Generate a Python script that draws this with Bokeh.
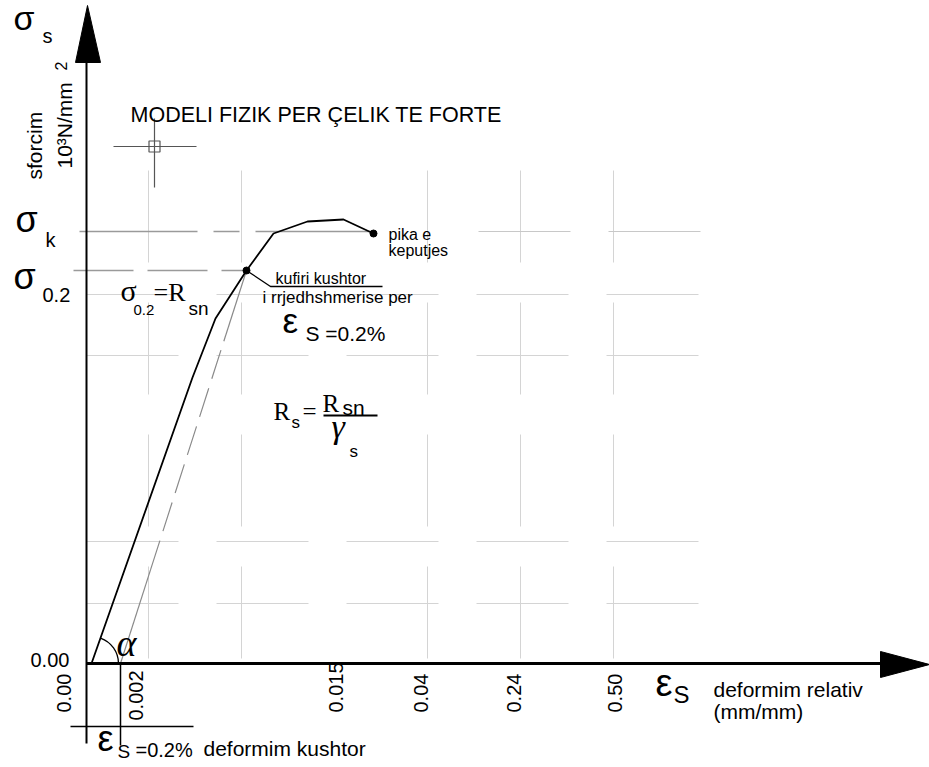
import numpy as np
from bokeh.plotting import figure
from bokeh.models import Range1d
from bokeh.core.properties import value
from bokeh.embed import file_html
from bokeh.resources import INLINE

# ---------------- data (drawing units: origin where the axes cross) -------------
curve_eps = [5, 106, 129, 160, 187, 221, 257, 287]      # stress-strain curve
curve_sig = [0, 286, 345, 393, 430, 442, 444, 430]
offset_eps = [34, 160]                                   # 0.2% offset line
offset_sig = [0, 393]
sigma_k = 432            # breaking stress level
sigma_02 = 393           # conventional yield level
eps_02 = 34              # 0.2 % strain
grid_x = [62, 155, 341, 434, 527]
grid_y = [60, 122, 308, 369]
grid_top = 493
grid_right = 620
xtick_labels = ["0.00", "0.002", "0.015", "0.04", "0.24", "0.50"]
xtick_pos = [-15, 57, 257, 342, 435, 536]
xtick_start = [-49, -57, -49, -49, -49, -49]

OX, OY = 86, 663   # reference pixel of the origin
W, H = 929, 767
BASE_FIX = 0.38    # baseline correction (fraction of font size)


def X(px):
    return px - OX


def Y(py):
    return OY - py


SANS = "Liberation Sans"
SERIF = "Liberation Serif"

p = figure(width=W, height=H, x_range=Range1d(X(0), X(W)),
           y_range=Range1d(Y(H), Y(0)), output_backend="svg",
           toolbar_location=None, x_axis_type=None, y_axis_type=None,
           min_border=0, title=None)
p.outline_line_color = None
p.background_fill_color = "white"
p.border_fill_color = "white"

# grid (broken lines, CAD style)
p.multi_line(xs=[[gx, gx] for gx in grid_x], ys=[[grid_top, 0] for _ in grid_x],
             line_color="#d4d4d4", line_width=1, line_dash="92 40")
p.multi_line(xs=[[0, grid_right] for _ in grid_y], ys=[[gy, gy] for gy in grid_y],
             line_color="#d4d4d4", line_width=1, line_dash="92 38")
# right part of sigma_k line (grid-like)
p.line([392, grid_right], [sigma_k, sigma_k], line_color="#c8c8c8", line_width=1,
       line_dash="92 38")

# dashed reference levels
p.line([X(79), curve_eps[-1]], [sigma_k, sigma_k], line_color="#9a9a9a",
       line_width=1.5, line_dash="118 16 26 16")
p.line([X(73), curve_eps[3]], [sigma_02, sigma_02], line_color="#9a9a9a",
       line_width=1.5, line_dash="60 14")

# offset line: solid - dashed - solid
t = np.array([0.0, 0.24, 0.82, 1.0])
ox = offset_eps[0] + t * (offset_eps[1] - offset_eps[0])
oy = offset_sig[0] + t * (offset_sig[1] - offset_sig[0])
p.line([ox[0], ox[1]], [oy[0], oy[1]], line_color="#8a8a8a", line_width=1.2)
p.line([ox[1], ox[2]], [oy[1], oy[2]], line_color="#8a8a8a", line_width=1.2,
       line_dash="30 10")
p.line([ox[2], ox[3]], [oy[2], oy[3]], line_color="#8a8a8a", line_width=1.2)

# main curve
p.line(curve_eps, curve_sig, line_color="black", line_width=1.8)
p.scatter([curve_eps[3], curve_eps[-1]], [curve_sig[3], curve_sig[-1]], size=7,
          color="black")

# leader line for "kufiri kushtor"
p.line([curve_eps[3], X(270), X(382)], [curve_sig[3], Y(286), Y(286)],
       line_color="black", line_width=1.3)

# angle alpha arc
ang = np.arctan2(curve_sig[1] - curve_sig[0], curve_eps[1] - curve_eps[0])
p.arc(x=[curve_eps[0]], y=[curve_sig[0]], radius=27, start_angle=0, end_angle=ang,
      line_color="black", line_width=1.3)

# axes
p.line([0, 0], [Y(62), Y(743)], line_color="black", line_width=2)
p.patch([X(75), X(100), X(87)], [Y(62), Y(62), Y(5)], color="black")
p.line([0, X(880)], [0, 0], line_color="black", line_width=3)
p.patch([X(880), X(880), X(929)], [Y(651), Y(677), Y(664)], color="black")

# bracket for 0.2% strain under the axis
p.line([X(70), X(193)], [Y(726), Y(726)], line_color="black", line_width=1.5)
p.line([eps_02, eps_02], [0, Y(745)], line_color="black", line_width=1.5)

# crosshair symbol
p.line([X(113), X(196)], [Y(146), Y(146)], line_color="#555555", line_width=1.2)
p.line([X(154), X(154)], [Y(118), Y(187)], line_color="#555555", line_width=1.2)
p.rect(x=[X(154)], y=[Y(146)], width=11, height=11, fill_color=None,
       line_color="#555555", line_width=1.2)

# fraction bar
p.line([X(323), X(377)], [Y(415), Y(415)], line_color="black", line_width=1.8)


def txt(px, py, s, size, font=SANS, angle=0.0, style="normal", color="black",
        data=False):
    x = px if data else X(px)
    y = py if data else Y(py)
    if angle:
        x -= BASE_FIX * size
    else:
        y += BASE_FIX * size
    p.text(x=[x], y=[y], text=[s], text_font=value(font),
           text_font_size=f"{size}px", text_font_style=style, angle=angle,
           text_align="left", text_baseline="alphabetic", text_color=color)


# sigma labels on the left
txt(13, 30, "σ", 34)
txt(42, 43, "s", 20)
txt(15, 233, "σ", 36)
txt(45, 247, "k", 20)
txt(13, 290, "σ", 36)
txt(42, 302, "0.2", 20)

# y-axis name (rotated)
txt(42, 179, "sforcim", 21, angle=np.pi / 2)
txt(72, 168, "10³N/mm", 21, angle=np.pi / 2)
txt(67, 70, "2", 16, angle=np.pi / 2)

# title
txt(130, 123, "MODELI FIZIK PER ÇELIK TE FORTE", 21.5)

# y tick
txt(30, 667, "0.00", 20)

# x ticks (rotated)
for lab, xp, ys in zip(xtick_labels, xtick_pos, xtick_start):
    txt(xp, ys, lab, 20, angle=np.pi / 2, data=True)

# x-axis name
txt(655, 697, "ε", 38)
txt(673, 703, "S", 24)
txt(713, 697, "deformim relativ", 21)
txt(713, 719, "(mm/mm)", 21)

# bottom annotation
txt(97, 752, "ε", 36)
txt(117, 758, "S", 19)
txt(135, 757, "=0.2%", 20)
txt(203, 756, "deformim kushtor", 21)

# curve annotations
txt(388, 240, "pika e", 16)
txt(388, 256, "keputjes", 16)
txt(275, 284, "kufiri kushtor", 16)
txt(262, 303, "i rrjedhshmerise per", 17)
txt(282, 333, "ε", 35)
txt(305, 341, "S =0.2%", 21)

# sigma0.2 = Rsn
txt(120, 301, "σ", 30, font=SERIF)
txt(133, 315, "0.2", 15)
txt(153, 302, "=R", 26, font=SERIF)
txt(188, 315, "sn", 19)

# Rs = Rsn / gamma_s
txt(273, 420, "R", 25, font=SERIF)
txt(291, 428, "s", 17)
txt(302, 420, "=", 25, font=SERIF)
txt(322, 412, "R", 25, font=SERIF)
txt(342, 415, "sn", 21)
txt(331, 439, "γ", 34, font=SERIF, style="italic")
txt(349, 457, "s", 17)

# alpha
txt(116, 657, "α", 38, font=SERIF, style="italic")

open("out.html", "w").write(file_html(p, INLINE))
